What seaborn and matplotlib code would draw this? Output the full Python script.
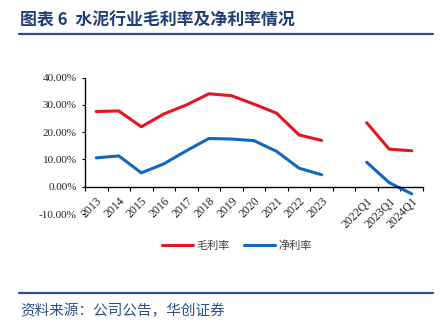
import numpy as np
import pandas as pd
import matplotlib
matplotlib.use("Agg")
import matplotlib.pyplot as plt
import seaborn as sns
from matplotlib.ticker import FixedLocator, FuncFormatter
from matplotlib.lines import Line2D

categories = ["2013", "2014", "2015", "2016", "2017", "2018", "2019", "2020",
              "2021", "2022", "2023", "", "2022Q1", "2023Q1", "2024Q1"]
gross_margin = [27.6, 27.8, 22.0, 26.7, 30.0, 34.1, 33.4, 30.3, 27.0, 19.0, 17.0,
                None, 23.5, 13.8, 13.2]
net_margin = [10.6, 11.3, 5.1, 8.4, 13.2, 17.7, 17.5, 16.9, 13.0, 6.8, 4.4,
              None, 9.0, 1.5, -2.6]
series_names = ["毛利率", "净利率"]
series_colors = ["#E3151F", "#0F67BE"]

rows = []
for name, vals in zip(series_names, [gross_margin, net_margin]):
    seg = 0
    for i, v in enumerate(vals):
        if v is None:
            seg += 1
            continue
        rows.append({"x": i, "value": v, "series": name, "seg": seg})
df = pd.DataFrame(rows)

sns.set_theme(style="white")
plt.rcParams["font.family"] = ["Noto Sans CJK SC", "DejaVu Sans"]

fig = plt.figure(figsize=(4.4, 3.27), dpi=100)
ax = fig.add_axes([85 / 440, 1 - 214 / 327, (423 - 85) / 440, (214 - 77.7) / 327])

sns.lineplot(data=df, x="x", y="value", hue="series", units="seg", estimator=None,
             palette=dict(zip(series_names, series_colors)), hue_order=series_names,
             linewidth=2.2, ax=ax, legend=False)

ax.set_xlim(-0.5, len(categories) - 0.5)
ax.set_ylim(-10, 40)
ax.set_xlabel("")
ax.set_ylabel("")

for s in ["top", "right"]:
    ax.spines[s].set_visible(False)
ax.spines["bottom"].set_position(("data", 0))
ax.spines["bottom"].set_color("black")
ax.spines["bottom"].set_linewidth(1.0)
ax.spines["left"].set_color("black")
ax.spines["left"].set_linewidth(1.0)
ax.spines["left"].set_bounds(0, 40)

ax.set_xticks(range(len(categories)))
ax.set_xticklabels(categories, rotation=45, ha="right", va="top",
                   rotation_mode="anchor", family="Liberation Serif", fontsize=8.5,
                   color="#222222")
ax.xaxis.set_minor_locator(FixedLocator(np.arange(-0.5, len(categories), 1.0)))
ax.tick_params(axis="x", which="major", length=0, pad=6)
ax.tick_params(axis="x", which="minor", length=3, width=0.8, direction="out",
               color="black", bottom=True)

ax.set_yticks([-10, 0, 10, 20, 30, 40])
ax.yaxis.set_major_formatter(FuncFormatter(lambda v, p: f"{v:.2f}%"))
ax.tick_params(axis="y", length=2, width=0.8, direction="out", color="black",
               left=True, pad=4)
for lab in ax.get_yticklabels():
    lab.set_family("Liberation Serif")
    lab.set_fontsize(8)
    lab.set_color("#222222")

# legend
handles = [Line2D([], [], color=c, lw=2.2) for c in series_colors]
fig.legend(handles, series_names, loc="center", bbox_to_anchor=(237 / 440, 1 - 246 / 327),
           ncol=2, frameon=False, handlelength=2.8, columnspacing=1.3,
           handletextpad=0.3, prop={"family": ["Noto Sans CJK SC"], "size": 8},
           labelcolor="#404040")

# title and rules
fig.text(20 / 440, 1 - 20 / 327, "图表 6  水泥行业毛利率及净利率情况", ha="left", va="center",
         fontsize=12.2, fontweight="bold", color="#1F3F75",
         family=["Noto Sans CJK SC", "DejaVu Sans"])
fig.add_artist(Line2D([19 / 440, 433 / 440], [1 - 34 / 327] * 2, color="#2E5088", lw=1.6))
fig.add_artist(Line2D([19 / 440, 433 / 440], [1 - 293 / 327] * 2, color="#2E5088", lw=1.6))
fig.text(20 / 440, 1 - 311 / 327, "资料来源：公司公告，华创证券", ha="left", va="center",
         fontsize=10.5, style="italic", color="#2E5088",
         family=["Noto Sans CJK SC", "DejaVu Sans"])

fig.savefig("out.png", dpi=100)
